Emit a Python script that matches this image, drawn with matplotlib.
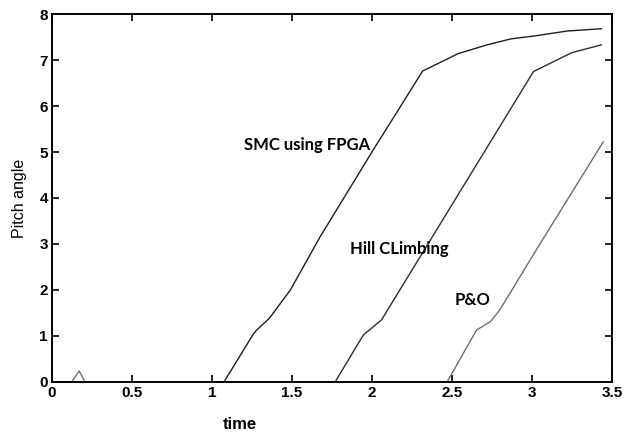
import matplotlib
matplotlib.use("Agg")
import matplotlib.pyplot as plt

plt.rcParams["font.family"] = ["Liberation Sans", "DejaVu Sans"]
plt.rcParams["font.weight"] = "bold"

# SMC using FPGA
smc_x = [0.0, 1.075, 1.26, 1.28, 1.36, 1.49, 1.675, 2.0, 2.317, 2.54, 2.72, 2.87, 3.03, 3.22, 3.435]
smc_y = [0.0, 0.0, 1.05, 1.13, 1.39, 2.0, 3.15, 5.0, 6.76, 7.14, 7.33, 7.46, 7.53, 7.63, 7.68]

# Hill Climbing
hc_x = [0.0, 1.77, 1.946, 2.06, 3.01, 3.25, 3.435]
hc_y = [0.0, 0.0, 1.02, 1.35, 6.75, 7.16, 7.33]

# P&O
po_x = [0.0, 0.123, 0.17, 0.206, 2.47, 2.654, 2.74, 2.8, 3.05, 3.446]
po_y = [0.0, 0.0, 0.24, 0.0, 0.0, 1.13, 1.31, 1.57, 3.0, 5.22]

xticks = [0, 0.5, 1, 1.5, 2, 2.5, 3, 3.5]
xtick_labels = ["0", "0.5", "1", "1.5", "2", "2.5", "3", "3.5"]
yticks = [0, 1, 2, 3, 4, 5, 6, 7, 8]
ytick_labels = ["0", "1", "2", "3", "4", "5", "6", "7", "8"]

fig = plt.figure(figsize=(6.25, 4.38), dpi=100)
ax = fig.add_axes([0.0832, 0.1279, 0.8958, 0.8401])

ax.plot(po_x, po_y, color="#6e6e6e", lw=1.0)
ax.plot(hc_x, hc_y, color="#2e2e2e", lw=1.0)
ax.plot(smc_x, smc_y, color="#1e1e1e", lw=1.0)

ax.set_xlim(0, 3.5)
ax.set_ylim(0, 8)
ax.set_xticks(xticks, labels=xtick_labels)
ax.set_yticks(yticks, labels=ytick_labels)
for lab in ax.get_xticklabels() + ax.get_yticklabels():
    lab.set_fontweight("bold")
    lab.set_fontsize(11)

for s in ax.spines.values():
    s.set_linewidth(1.4)
    s.set_color("black")

ax.tick_params(direction="in", length=5, width=1.2, top=True, right=True, pad=3)

ax.set_xlabel("time", fontsize=12, fontweight="bold")
ax.xaxis.set_label_coords(0.336, -0.095)
ax.set_ylabel("Pitch angle", fontsize=11.5, fontweight="normal")
ax.yaxis.set_label_coords(-0.045, 0.5)

tfont = dict(fontsize=12, fontweight="bold", family="Lato", va="center", ha="left")
ax.text(1.20, 5.15, "SMC using FPGA", **tfont)
ax.text(1.86, 2.90, "Hill CLimbing", **tfont)
ax.text(2.52, 1.78, "P&O", **tfont)

fig.savefig("out.png", dpi=100)
